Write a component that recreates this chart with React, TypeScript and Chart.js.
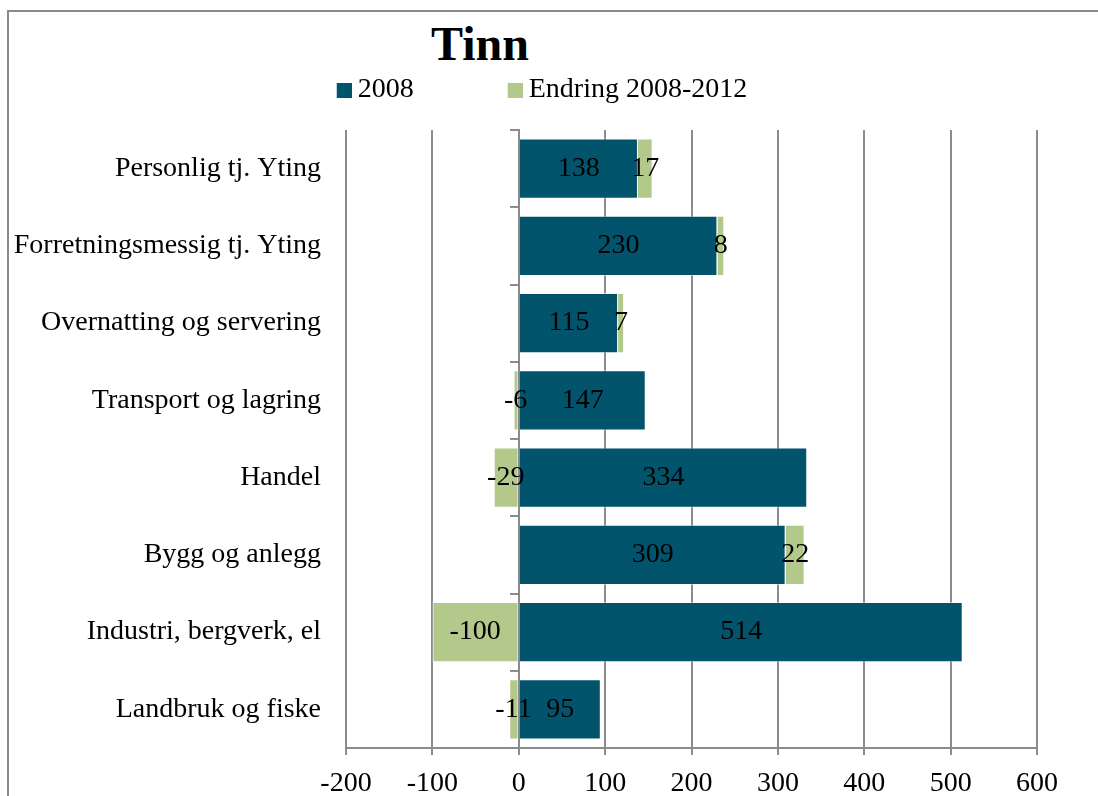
import React, { useEffect, useRef } from "react";
import { Chart, registerables } from "chart.js";

Chart.register(...registerables);

const TITLE = "Tinn";
const categories = [
  "Personlig tj. Yting",
  "Forretningsmessig tj. Yting",
  "Overnatting og servering",
  "Transport og lagring",
  "Handel",
  "Bygg og anlegg",
  "Industri, bergverk, el",
  "Landbruk og fiske",
];
const values2008 = [138, 230, 115, 147, 334, 309, 514, 95];
const valuesChange = [17, 8, 7, -6, -29, 22, -100, -11];
const seriesNames = ["2008", "Endring 2008-2012"];
const xMin = -200;
const xMax = 600;
const xStep = 100;

const COLORS = ["#02546D", "#B3C98C"];
const GRID = "#8c8c8c";
const FONT = '"Liberation Serif", "Times New Roman", serif';

// canvas is shifted left so the centred legend lands where the reference has it
const CANVAS_X = -37;
const CANVAS_W = 1098 - CANVAS_X;
const CANVAS_H = 796;

function makeLegendSwatch(color: string): HTMLCanvasElement {
  const c = document.createElement("canvas");
  c.width = 107;
  c.height = 15;
  const g = c.getContext("2d")!;
  g.fillStyle = color;
  g.fillRect(c.width - 15, 0, 15, 15);
  return c;
}

const valueLabels = {
  id: "valueLabels",
  afterDatasetsDraw(chart: any) {
    const ctx = chart.ctx;
    ctx.save();
    ctx.font = `28px ${FONT}`;
    ctx.fillStyle = "#000";
    ctx.textAlign = "center";
    ctx.textBaseline = "middle";
    chart.data.datasets.forEach((ds: any, di: number) => {
      const meta = chart.getDatasetMeta(di);
      meta.data.forEach((el: any, i: number) => {
        const p = el.getCenterPoint();
        ctx.fillText(String(ds.data[i]), p.x, p.y);
      });
    });
    ctx.restore();
  },
};

export default function App() {
  const ref = useRef<HTMLCanvasElement | null>(null);

  useEffect(() => {
    if (!ref.current) return;
    const swatches = COLORS.map(makeLegendSwatch);
    const chart = new Chart(ref.current, {
      type: "bar",
      data: {
        labels: categories,
        datasets: [
          {
            label: seriesNames[0],
            data: values2008,
            backgroundColor: COLORS[0],
            borderColor: "rgba(255,255,255,0.5)",
            borderWidth: 1,
            xAxisID: "x",
            yAxisID: "y",
            barPercentage: 0.78,
            categoryPercentage: 1,
          },
          {
            label: seriesNames[1],
            data: valuesChange,
            backgroundColor: COLORS[1],
            borderColor: "rgba(255,255,255,0.5)",
            borderWidth: 1,
            xAxisID: "x",
            yAxisID: "y",
            barPercentage: 0.78,
            categoryPercentage: 1,
          },
        ],
      },
      options: {
        indexAxis: "y",
        animation: false,
        responsive: false,
        maintainAspectRatio: false,
        layout: { padding: { left: 0, top: 66, right: 61, bottom: 0 } },
        plugins: {
          title: { display: false },
          tooltip: { enabled: false },
          legend: {
            display: true,
            position: "top",
            align: "center",
            labels: {
              font: { family: FONT, size: 28 },
              color: "#000",
              padding: 10,
              usePointStyle: true,
              pointStyleWidth: 91,
              generateLabels: (ch: any) => {
                const items = Chart.defaults.plugins.legend.labels.generateLabels(ch);
                return items.map((it: any, i: number) => ({ ...it, pointStyle: swatches[i] }));
              },
            },
          },
        },
        scales: {
          x: {
            type: "linear",
            position: "bottom",
            stacked: true,
            min: xMin,
            max: xMax,
            afterFit: (s: any) => {
              s.height = 48;
            },
            ticks: {
              stepSize: xStep,
              color: "#000",
              font: { family: FONT, size: 28 },
              padding: 12,
            },
            grid: { color: GRID, lineWidth: 2, tickLength: 7, drawTicks: true },
            border: { display: true, color: GRID, width: 2 },
          },
          xTop: {
            type: "linear",
            axis: "x",
            position: "top",
            min: 0,
            max: 1,
            afterFit: (s: any) => {
              s.height = 16;
            },
            ticks: { display: false },
            grid: { display: false, drawTicks: false },
            border: { display: false },
          },
          y: {
            type: "category",
            position: "left",
            stacked: true,
            afterFit: (s: any) => {
              s.width = 346 - CANVAS_X;
            },
            ticks: {
              color: "#000",
              font: { family: FONT, size: 28 },
              padding: 25,
            },
            grid: { display: false, drawTicks: false },
            border: { display: false },
          },
          yZero: {
            type: "category",
            axis: "y",
            position: { x: 0 },
            offset: true,
            ticks: { display: false },
            grid: {
              display: true,
              drawOnChartArea: false,
              drawTicks: true,
              tickLength: 8,
              offset: true,
              color: GRID,
              lineWidth: 2,
            },
            border: { display: true, color: GRID, width: 2 },
          },
        },
      },
      plugins: [valueLabels],
    } as any);
    return () => chart.destroy();
  }, []);

  return (
    <div
      style={{
        position: "absolute",
        left: 0,
        top: 0,
        width: 1098,
        height: 796,
        overflow: "hidden",
        background: "#fff",
      }}
    >
      <div
        style={{
          position: "absolute",
          left: 7,
          top: 10,
          width: 1091,
          height: 786,
          boxSizing: "border-box",
          borderLeft: "2px solid #8a8a8a",
          borderTop: "2px solid #8a8a8a",
        }}
      />
      <div
        style={{
          position: "absolute",
          left: 380,
          top: 20,
          width: 200,
          textAlign: "center",
          fontFamily: FONT,
          fontWeight: "bold",
          fontSize: 48,
          lineHeight: 1,
          color: "#000",
        }}
      >
        {TITLE}
      </div>
      <canvas
        ref={ref}
        width={CANVAS_W}
        height={CANVAS_H}
        style={{ position: "absolute", left: CANVAS_X, top: 0, display: "block" }}
      />
    </div>
  );
}
